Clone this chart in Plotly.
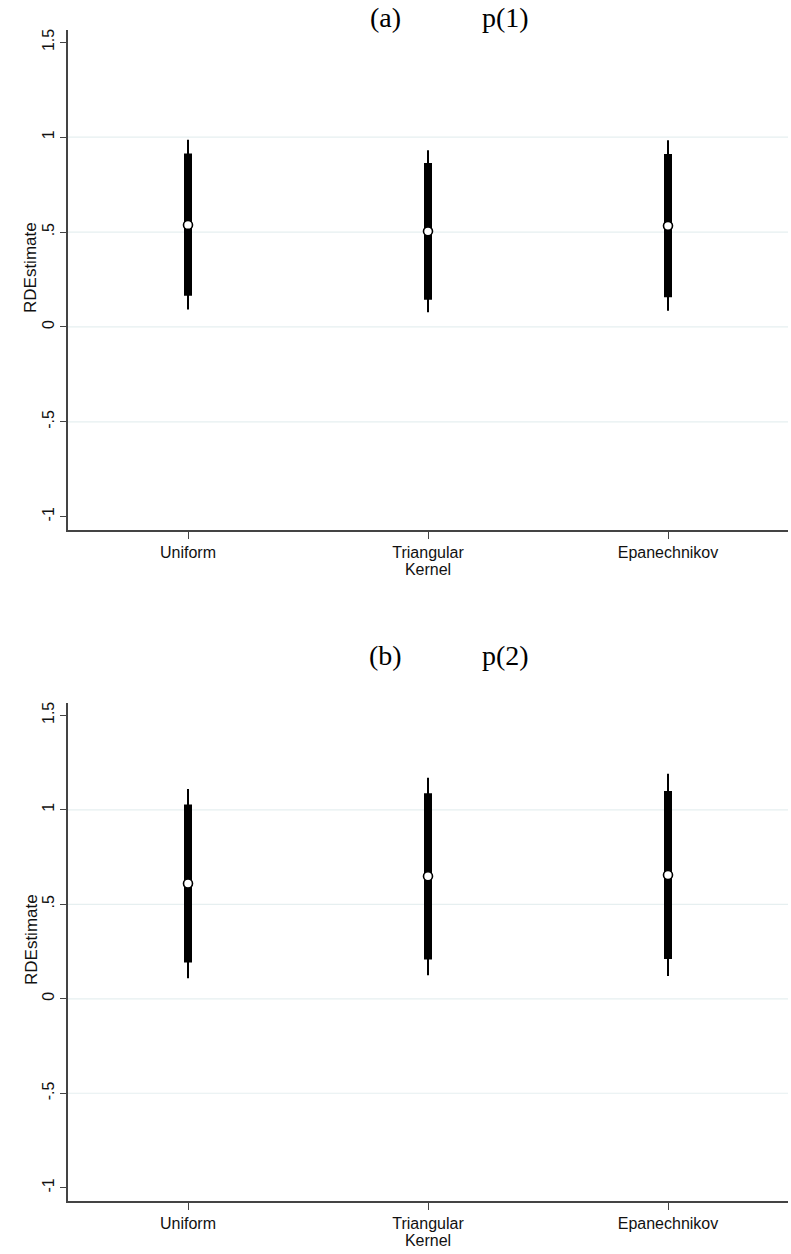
import plotly.graph_objects as go

# Kernel choices on the x axis
kernels = ["Uniform", "Triangular", "Epanechnikov"]
kernel_pos = [1, 2, 3]

# Panel (a): local linear, p(1)
est_a = [0.538, 0.504, 0.533]
ci90_lo_a = [0.164, 0.144, 0.157]
ci90_hi_a = [0.914, 0.864, 0.912]
ci95_lo_a = [0.092, 0.078, 0.085]
ci95_hi_a = [0.986, 0.931, 0.984]

# Panel (b): local quadratic, p(2)
est_b = [0.610, 0.648, 0.655]
ci90_lo_b = [0.192, 0.208, 0.210]
ci90_hi_b = [1.028, 1.088, 1.100]
ci95_lo_b = [0.108, 0.124, 0.120]
ci95_hi_b = [1.110, 1.170, 1.190]

y_ticks = [1.5, 1, 0.5, 0, -0.5, -1]
y_tick_text = ["1.5", "1", ".5", "0", "-.5", "-1"]
grid_vals = [1, 0.5, 0, -0.5]

W, H = 791, 1254
Y_RANGE = [-1.07, 1.565]
X_RANGE = [0.5, 3.5]

panels = [
    dict(tag="(a)", ptag="p(1)", est=est_a, lo90=ci90_lo_a, hi90=ci90_hi_a,
         lo95=ci95_lo_a, hi95=ci95_hi_a, top=30, bottom=530, title_y=17, ytitle_y=268),
    dict(tag="(b)", ptag="p(2)", est=est_b, lo90=ci90_lo_b, hi90=ci90_hi_b,
         lo95=ci95_lo_b, hi95=ci95_hi_b, top=703, bottom=1201, title_y=655, ytitle_y=940),
]

fig = go.Figure()
left_px, right_px = 68, 788
sans = "Liberation Sans, Arial, Helvetica, sans-serif"
label_font = dict(family=sans, size=16, color="#111111")

for i, p in enumerate(panels, start=1):
    xa = "x" if i == 1 else f"x{i}"
    ya = "y" if i == 1 else f"y{i}"

    def segs(lo, hi):
        xs, ys = [], []
        for x, l, h in zip(kernel_pos, lo, hi):
            xs += [x, x, None]
            ys += [l, h, None]
        return xs, ys

    # 95% interval (thin) and 90% interval (thick)
    xs, ys = segs(p["lo95"], p["hi95"])
    fig.add_trace(go.Scatter(x=xs, y=ys, mode="lines", line=dict(color="black", width=2),
                             xaxis=xa, yaxis=ya, showlegend=False, hoverinfo="skip"))
    xs, ys = segs(p["lo90"], p["hi90"])
    fig.add_trace(go.Scatter(x=xs, y=ys, mode="lines", line=dict(color="black", width=8),
                             xaxis=xa, yaxis=ya, showlegend=False, hoverinfo="skip"))
    fig.add_trace(go.Scatter(x=kernel_pos, y=p["est"], mode="markers",
                             marker=dict(symbol="circle", size=9, color="white",
                                         line=dict(color="black", width=1.6)),
                             xaxis=xa, yaxis=ya, showlegend=False))

    dom_y = [(H - p["bottom"]) / H, (H - p["top"]) / H]
    dom_x = [left_px / W, right_px / W]

    fig.layout[f"xaxis{'' if i == 1 else i}"] = dict(
        domain=dom_x, range=X_RANGE, anchor=ya,
        tickmode="array", tickvals=kernel_pos, ticktext=kernels,
        ticks="outside", ticklen=7, tickwidth=1.2, tickcolor="#444444",
        showline=True, linecolor="#444444", linewidth=1.5,
        showgrid=False, zeroline=False, tickfont=label_font,
        title=dict(text="Kernel", font=label_font, standoff=4),
        fixedrange=True,
    )
    fig.layout[f"yaxis{'' if i == 1 else i}"] = dict(
        domain=dom_y, range=Y_RANGE, anchor=xa,
        tickmode="array", tickvals=y_ticks, ticktext=y_tick_text, tickangle=-90,
        ticks="outside", ticklen=6, tickwidth=1.2, tickcolor="#444444",
        showline=True, linecolor="#444444", linewidth=1.5,
        showgrid=False, zeroline=False, tickfont=label_font,
        fixedrange=True,
    )

    fig.add_annotation(x=31 / W, y=(H - p["ytitle_y"]) / H, xref="paper", yref="paper",
                       xanchor="center", yanchor="middle",
                       text="RDEstimate", textangle=-90, showarrow=False,
                       font=dict(family=sans, size=17, color="#111111"))

    for g in grid_vals:
        fig.add_shape(type="line", xref=f"{xa} domain", yref=ya, x0=0, x1=1, y0=g, y1=g,
                      line=dict(color="#e6eff0", width=1.2), layer="below")

    title_font = dict(family="Liberation Serif, Times New Roman, serif", size=28, color="black")
    fig.add_annotation(x=385 / W, y=(H - p["title_y"]) / H, xref="paper", yref="paper",
                       xanchor="center", yanchor="middle",
                       text=p["tag"], showarrow=False, font=title_font)
    fig.add_annotation(x=505 / W, y=(H - p["title_y"]) / H, xref="paper", yref="paper",
                       xanchor="center", yanchor="middle",
                       text=p["ptag"], showarrow=False, font=title_font)

fig.update_layout(
    width=W, height=H,
    margin=dict(l=0, r=0, t=0, b=0),
    paper_bgcolor="white", plot_bgcolor="white",
    showlegend=False,
)

fig.write_html("out.html")
